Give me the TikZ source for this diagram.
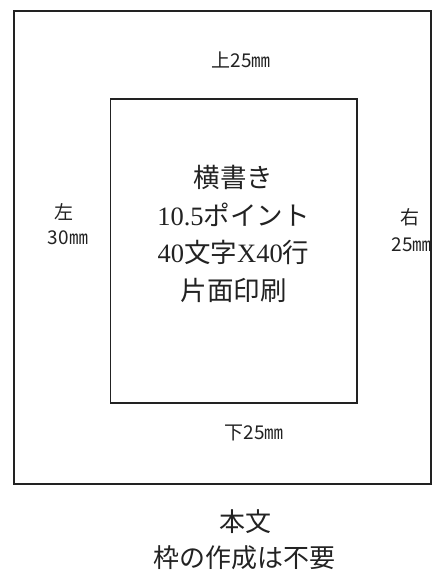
\documentclass[tikz,border=0pt]{standalone}
\usepackage{fontspec}
\newfontfamily\cjk{Noto Sans CJK JP}
\newfontfamily\lser{Liberation Serif}
\definecolor{ink}{HTML}{222222}
\tikzset{
  frame/.style={draw=ink, line width=1.7pt},
  lab/.style={font=\cjk\fontsize{19}{22}\selectfont, text=ink, inner sep=0pt},
  body/.style={font=\cjk\fontsize{26.5}{37.7}\selectfont, text=ink, align=center, inner sep=0pt},
  note/.style={font=\cjk\fontsize{26}{30}\selectfont, text=ink, inner sep=0pt}
}
\begin{document}
\begin{tikzpicture}[x=1pt,y=-1pt]
\useasboundingbox (0,0) rectangle (432,571);
\draw[frame] (14,11) rectangle (431,484);
\draw[frame] (110.5,99) rectangle (357,403);
\node[body] (main) at (233.5,234) {横書き\\{\lser 10.5}ポイント\\{\lser 40}文字{\lser X40}行\\片面印刷};
\node[lab] (top) at (241,60) {上25㎜};
\node[lab] (left) at (64,212) {左};
\node[lab] (leftv) at (68,238) {30㎜};
\node[lab] (right) at (410,217) {右};
\node[lab, anchor=east] (rightv) at (432,245) {25㎜};
\node[lab] (bottom) at (254,433) {下25㎜};
\node[note] (n1) at (245,522) {本文};
\node[note] (n2) at (244,558) {枠の作成は不要};
\end{tikzpicture}
\end{document}
